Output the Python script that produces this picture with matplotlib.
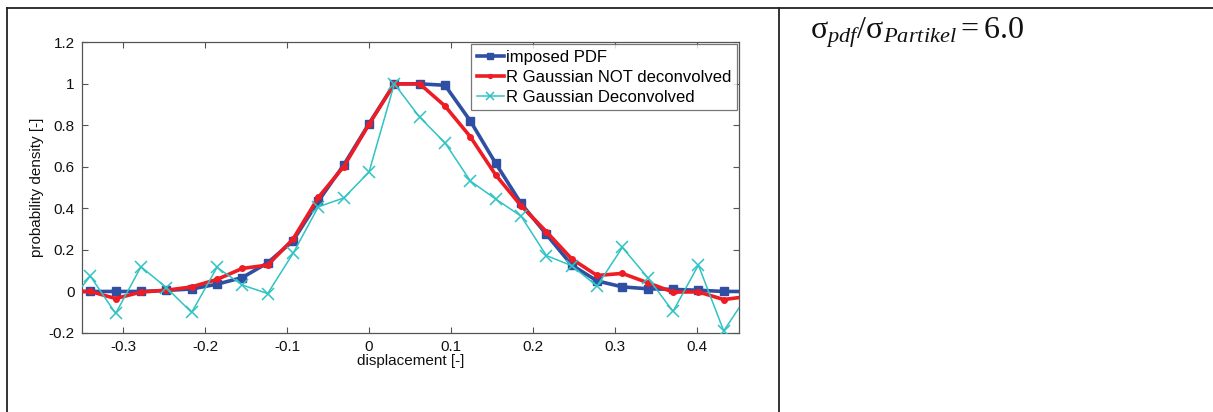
import numpy as np
import matplotlib
matplotlib.use("Agg")
import matplotlib.pyplot as plt
from matplotlib.lines import Line2D

# ---- data ----
dx = 0.0309
k = np.arange(-12, 16)
x_vals = k * dx

imposed_pdf = [0.0, 0.0, 0.0, 0.0, 0.005, 0.012, 0.035, 0.067, 0.138, 0.244, 0.435,
               0.609, 0.808, 1.0, 1.0, 0.993, 0.821, 0.617, 0.424, 0.275, 0.127,
               0.051, 0.022, 0.013, 0.010, 0.006, 0.0, 0.0]
not_deconv = [0.0, 0.0, -0.034, -0.003, 0.006, 0.022, 0.058, 0.111, 0.127, 0.252, 0.453,
              0.601, 0.805, 1.0, 1.0, 0.893, 0.745, 0.561, 0.413, 0.288, 0.157,
              0.077, 0.087, 0.042, -0.003, -0.002, -0.039, -0.023]
deconv = [-0.08, 0.074, -0.106, 0.119, 0.019, -0.101, 0.116, 0.031, -0.010, 0.183, 0.408,
          0.450, 0.575, 1.0, 0.839, 0.716, 0.532, 0.445, 0.363, 0.173, 0.124,
          0.026, 0.212, 0.067, -0.096, 0.127, -0.190, -0.006]

series_labels = ["imposed PDF", "R Gaussian NOT deconvolved", "R Gaussian Deconvolved"]
x_ticks = [-0.3, -0.2, -0.1, 0, 0.1, 0.2, 0.3, 0.4]
x_ticklabels = ["-0.3", "-0.2", "-0.1", "0", "0.1", "0.2", "0.3", "0.4"]
y_ticks = [-0.2, 0, 0.2, 0.4, 0.6, 0.8, 1.0, 1.2]
y_ticklabels = ["-0.2", "0", "0.2", "0.4", "0.6", "0.8", "1", "1.2"]

plt.rcParams['font.family'] = ['Liberation Sans', 'DejaVu Sans']
plt.rcParams['mathtext.fontset'] = 'custom'
plt.rcParams['mathtext.rm'] = 'Liberation Serif'
plt.rcParams['mathtext.it'] = 'Liberation Serif:italic'

W, H = 1213, 412
fig = plt.figure(figsize=(W / 100, H / 100), dpi=100)

# table frame lines
frame_col = '#222222'
def hline(y, x0, x1):
    fig.add_artist(Line2D([x0 / W, x1 / W], [1 - y / H, 1 - y / H], color=frame_col, lw=1.3))
def vline(x, y0, y1):
    fig.add_artist(Line2D([x / W, x / W], [1 - y0 / H, 1 - y1 / H], color=frame_col, lw=1.3))
hline(8.3, 6.5, W)
vline(6.8, 8.3, H)
vline(779.3, 8.3, H)

# axes
ax_l, ax_r, ax_t, ax_b = 81.7, 739.3, 42.3, 333.0
ax = fig.add_axes([ax_l / W, 1 - ax_b / H, (ax_r - ax_l) / W, (ax_b - ax_t) / H])

blue = '#2f4fa2'
red = '#ee1c24'
cyan = '#2fc3c3'

ax.plot(x_vals, imposed_pdf, color=blue, lw=2.6, marker='s', ms=5.5, mfc=blue, mec=blue,
        label=series_labels[0], zorder=3)
ax.plot(x_vals, not_deconv, color=red, lw=2.6, marker='o', ms=4, mfc=red, mec=red,
        label=series_labels[1], zorder=4)
ax.plot(x_vals, deconv, color=cyan, lw=1.1, marker='x', ms=8, mew=1.1,
        label=series_labels[2], zorder=5)

ax.set_xlim(-0.3504, 0.4516)
ax.set_ylim(-0.2, 1.2)
ax.set_xticks(x_ticks)
ax.set_xticklabels(x_ticklabels)
ax.set_yticks(y_ticks)
ax.set_yticklabels(y_ticklabels)
ax.tick_params(direction='in', top=True, right=True, length=4, width=0.8,
               colors='#555555', labelcolor='#111111', labelsize=11, pad=5)
for s in ax.spines.values():
    s.set_color('#555555')
    s.set_linewidth(0.9)
ax.set_xlabel('displacement [-]', fontsize=11, color='#111111', labelpad=0)
ax.set_ylabel('probability density [-]', fontsize=11, color='#111111', labelpad=3)

leg = ax.legend(loc='upper right', bbox_to_anchor=(0.997, 0.995), fontsize=12,
                frameon=True, fancybox=False, handlelength=1.6, handletextpad=0.15,
                borderpad=0.35, labelspacing=0.3, borderaxespad=0.0, markerscale=0.7)
leg.get_frame().set_edgecolor('#555555')
leg.get_frame().set_linewidth(0.9)

# right cell text
fig.text(810 / W, 1 - 39 / H,
         r'$\mathrm{σ}_{pdf}\mathrm{/}\mathrm{σ}_{Partikel}\mathrm{=6.0}$',
         fontsize=23, color='#111111', ha='left', va='baseline')

fig.savefig('out.png', dpi=100, facecolor='white')
